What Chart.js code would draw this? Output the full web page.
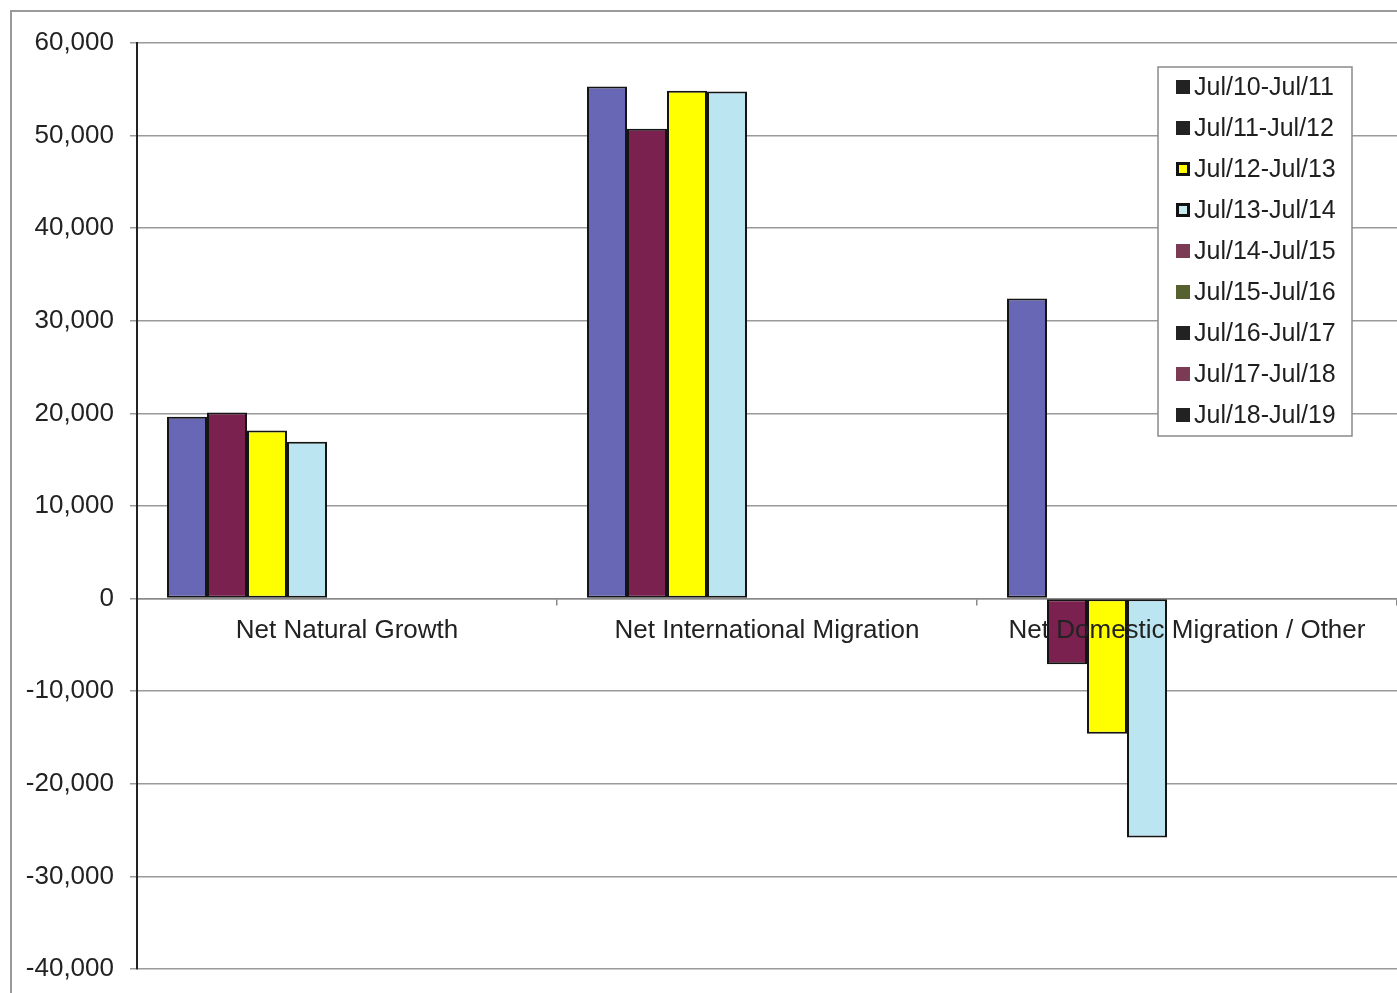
<!DOCTYPE html>
<html>
<head>
<meta charset="utf-8">
<script src="https://cdn.jsdelivr.net/npm/chart.js@4"></script>
<style>
  html, body { margin: 0; padding: 0; background: #fff; overflow: hidden; }
  #frame { position: absolute; left: 10px; top: 10px; width: 1400px; height: 1000px;
           border-left: 2px solid #9a9a9a; border-top: 2px solid #9a9a9a; }
  #wrap { position: absolute; left: 0; top: 0; width: 1397px; height: 993px; }
</style>
</head>
<body>
<div id="frame"></div>
<div id="wrap"><canvas id="grafico"></canvas></div>
<script>
// categorias do eixo x
const categorias = ['Net Natural Growth', 'Net International Migration', 'Net Domestic Migration / Other'];

// rótulos dos períodos (legenda)
const periodos = ['Jul/10-Jul/11', 'Jul/11-Jul/12', 'Jul/12-Jul/13', 'Jul/13-Jul/14',
  'Jul/14-Jul/15', 'Jul/15-Jul/16', 'Jul/16-Jul/17', 'Jul/17-Jul/18', 'Jul/18-Jul/19'];

// valores
const jul10_11 = [19650, 55300, 32400];
const jul11_12 = [20100, 50750, -7100];
const jul12_13 = [18150, 54850, -14600];
const jul13_14 = [16950, 54750, -25800];
const jul14_15 = [];
const jul15_16 = [];
const jul16_17 = [];
const jul17_18 = [];
const jul18_19 = [];

// ticks do eixo y
const yMin = -40000;
const yMax = 60000;
const yPasso = 10000;

const series = [jul10_11, jul11_12, jul12_13, jul13_14, jul14_15, jul15_16, jul16_17, jul17_18, jul18_19];

// cores das barras e cores da legenda (a legenda original não bate com as barras)
const coresBarras = ['#6767b5', '#7a2150', '#ffff00', '#bce5f2', '#7b3b55', '#556230', '#222222', '#7b3b55', '#222222'];
const coresLegenda = ['#222222', '#222222', '#ffff00', '#c6e8ee', '#7b3b55', '#556230', '#222222', '#7b3b55', '#222222'];
const legendaComBorda = [false, false, true, true, false, false, false, false, false];

const fonte = '"Liberation Sans", Arial, sans-serif';

// legenda desenhada dentro da área do gráfico
const legendaInterna = {
    id: 'legendaInterna',
    afterDraw(chart) {
        const ctx = chart.ctx;
        const x0 = 1158, y0 = 67, w = 194, h = 369;
        ctx.save();
        ctx.fillStyle = '#ffffff';
        ctx.fillRect(x0, y0, w, h);
        ctx.strokeStyle = '#8a8a8a';
        ctx.lineWidth = 1.5;
        ctx.strokeRect(x0, y0, w, h);
        ctx.font = '25px ' + fonte;
        ctx.textBaseline = 'middle';
        ctx.textAlign = 'left';
        chart.data.datasets.forEach((ds, i) => {
            const cy = 87 + i * 41;
            if (legendaComBorda[i]) {
                ctx.fillStyle = '#111';
                ctx.fillRect(1176, cy - 7, 14, 14);
                ctx.fillStyle = coresLegenda[i];
                ctx.fillRect(1179, cy - 4, 8, 8);
            } else {
                ctx.fillStyle = coresLegenda[i];
                ctx.fillRect(1176, cy - 7, 14, 14);
            }
            ctx.fillStyle = '#1e1e1e';
            ctx.fillText(ds.label, 1194, cy + 1);
        });
        ctx.restore();
    }
};

const ctx = document.getElementById('grafico').getContext('2d');
const grafico = new Chart(ctx, {
    type: 'bar',
    data: {
        labels: categorias,
        datasets: series.map((valores, i) => ({
            label: periodos[i],
            data: valores,
            backgroundColor: coresBarras[i],
            borderColor: '#141414',
            borderWidth: 2,
            borderSkipped: false,
            barPercentage: 1,
            categoryPercentage: 360 / 420
        }))
    },
    options: {
        responsive: true,
        maintainAspectRatio: false,
        animation: false,
        layout: { padding: { top: 43, bottom: 24, left: 0, right: 0 } },
        plugins: {
            legend: { display: false },
            tooltip: { enabled: false }
        },
        scales: {
            x: {
                position: { y: 0 },
                grid: { offset: true, drawOnChartArea: false, drawTicks: true, tickLength: 6, color: '#8a8a8a', lineWidth: 1.5 },
                border: { color: '#8a8a8a', width: 1.5 },
                ticks: { z: 1, color: '#222', padding: 11, font: { family: fonte, size: 26 }, maxRotation: 0, autoSkip: false }
            },
            y: {
                min: yMin,
                max: yMax,
                ticks: { stepSize: yPasso, color: '#222', padding: 16, font: { family: fonte, size: 26 } },
                grid: { color: '#9a9a9a', lineWidth: 1.5, tickLength: 7 },
                border: { color: '#222', width: 2 },
                afterFit: (escala) => {
                    escala.width = 137;
                    escala.paddingTop = 0;
                    escala.paddingBottom = 0;
                }
            }
        }
    },
    plugins: [legendaInterna]
});
</script>
</body>
</html>
